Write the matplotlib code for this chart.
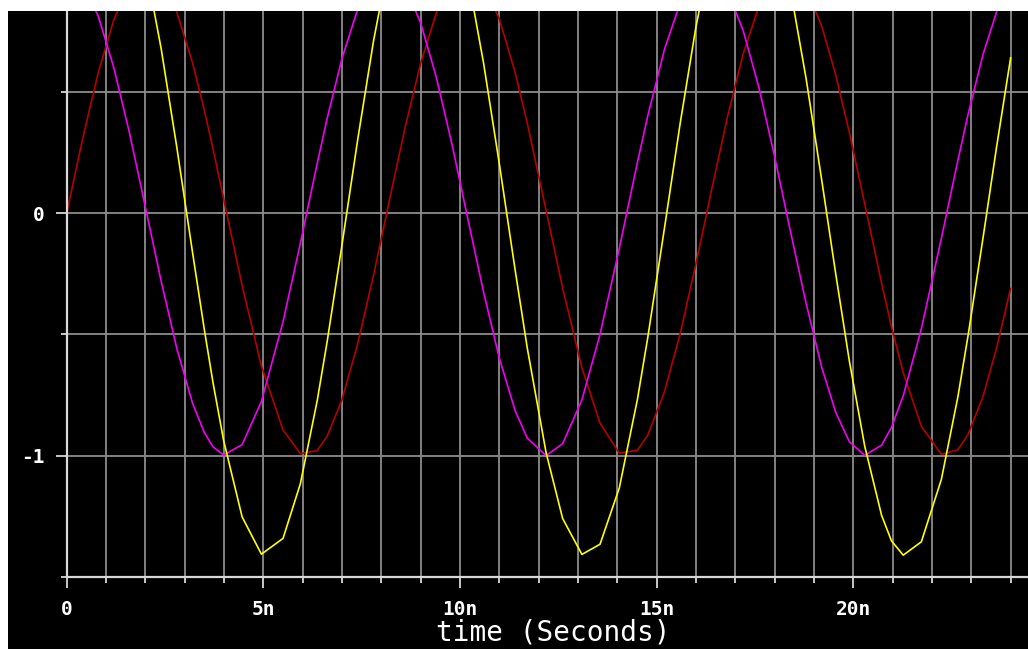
import matplotlib
matplotlib.use("Agg")
import matplotlib.pyplot as plt
from matplotlib.patches import Rectangle
from matplotlib.ticker import FixedLocator, MultipleLocator

# simulator time points (ns) and node voltages
time_ns = [
    0.0, 0.4, 0.8, 1.2, 1.6, 2.0, 2.4, 2.8, 3.2, 3.5, 3.72, 3.99, 4.46, 4.95,
    5.5, 5.94, 6.37, 6.62, 7.0, 7.4, 7.8, 8.2, 8.6, 9.0, 9.4, 9.8, 10.2, 10.6,
    11.0, 11.4, 11.71, 12.19, 12.61, 13.10, 13.56, 14.05, 14.51, 14.77, 15.2,
    15.6, 16.0, 16.4, 16.8, 17.2, 17.6, 18.0, 18.4, 18.8, 19.2, 19.55, 19.9,
    20.29, 20.72, 20.97, 21.27, 21.73, 22.24, 22.66, 22.92, 23.3, 23.65, 24.0,
]
v_red = [
    0.000, 0.304, 0.579, 0.800, 0.944, 1.000, 0.960, 0.830, 0.621, 0.425,
    0.266, 0.060, -0.298, -0.630, -0.894, -0.992, -0.979, -0.921, -0.769,
    -0.538, -0.257, 0.049, 0.351, 0.619, 0.828, 0.959, 1.000, 0.945, 0.802,
    0.582, 0.372, 0.011, -0.309, -0.638, -0.866, -0.990, -0.978, -0.917,
    -0.736, -0.496, -0.208, 0.099, 0.397, 0.657, 0.855, 0.972, 0.997, 0.928,
    0.771, 0.573, 0.333, 0.039, -0.289, -0.468, -0.658, -0.879, -0.995,
    -0.976, -0.912, -0.755, -0.552, -0.310,
]
v_magenta = [
    1.000, 0.953, 0.815, 0.600, 0.329, 0.026, -0.279, -0.558, -0.784, -0.905,
    -0.964, -0.998, -0.955, -0.777, -0.448, -0.125, 0.206, 0.390, 0.639,
    0.843, 0.967, 0.999, 0.937, 0.786, 0.560, 0.282, -0.023, -0.326, -0.598,
    -0.813, -0.928, -1.000, -0.951, -0.770, -0.500, -0.145, 0.209, 0.399,
    0.677, 0.868, 0.978, 0.995, 0.918, 0.754, 0.519, 0.234, -0.073, -0.372,
    -0.637, -0.820, -0.943, -0.999, -0.957, -0.884, -0.753, -0.477, -0.103,
    0.219, 0.409, 0.656, 0.834, 0.951,
]
v_yellow = [
    1.000, 1.257, 1.394, 1.400, 1.273, 1.026, 0.681, 0.272, -0.162, -0.481,
    -0.699, -0.938, -1.253, -1.407, -1.342, -1.117, -0.773, -0.532, -0.130,
    0.305, 0.710, 1.048, 1.287, 1.404, 1.389, 1.241, 0.977, 0.619, 0.204,
    -0.232, -0.556, -0.989, -1.260, -1.408, -1.366, -1.134, -0.769, -0.517,
    -0.060, 0.373, 0.770, 1.094, 1.315, 1.411, 1.374, 1.206, 0.925, 0.556,
    0.134, -0.247, -0.610, -0.961, -1.247, -1.352, -1.411, -1.356, -1.098,
    -0.757, -0.503, -0.100, 0.281, 0.641,
]

x_major = [0, 5, 10, 15, 20]
x_labels = ["0", "5n", "10n", "15n", "20n"]
y_major = [0, -1]
y_labels = ["0", "-1"]

W, H = 1028, 649
fig = plt.figure(figsize=(W / 100, H / 100), dpi=100, facecolor="black")
fig.add_artist(Rectangle((0, 1 - 11 / H), 1, 11 / H, transform=fig.transFigure,
                         facecolor="white", edgecolor="none"))
fig.add_artist(Rectangle((0, 0), 8 / W, 1, transform=fig.transFigure,
                         facecolor="white", edgecolor="none"))

x0, y_bot, y_top = 66.7, 576.7, 11
ax = fig.add_axes([x0 / W, (H - y_bot) / H, (W - x0) / W, (y_bot - y_top) / H])
ax.set_facecolor("black")

ax.plot(time_ns, v_red, color="#b40000", lw=1.2, zorder=3)
ax.plot(time_ns, v_magenta, color="#f000f0", lw=1.2, zorder=3)
ax.plot(time_ns, v_yellow, color="#ffff00", lw=1.2, zorder=3)

ax.set_xlim(0, (W - x0) / 39.33)
ax.set_ylim(-1.5, (213 - y_top) / 242.0)

ax.xaxis.set_major_locator(FixedLocator(x_major))
ax.set_xticklabels(x_labels)
ax.xaxis.set_minor_locator(MultipleLocator(1))
ax.yaxis.set_major_locator(FixedLocator(y_major))
ax.set_yticklabels(y_labels)
ax.yaxis.set_minor_locator(MultipleLocator(0.5))

ax.grid(which="both", color="#8c8c8c", lw=1.3, zorder=1)
ax.set_axisbelow(True)

for side in ["top", "right"]:
    ax.spines[side].set_visible(False)
for side in ["left", "bottom"]:
    ax.spines[side].set_color("#d8d8d8")
    ax.spines[side].set_linewidth(1.6)
    ax.spines[side].set_zorder(4)

ax.tick_params(which="major", length=8, width=1.3, color="#d8d8d8",
               labelcolor="white")
ax.tick_params(which="minor", length=4, width=1.3, color="#d8d8d8")
ax.tick_params(axis="x", which="major", pad=9)
ax.tick_params(axis="y", which="major", pad=8)
for lab in ax.get_xticklabels() + ax.get_yticklabels():
    lab.set_family("DejaVu Sans Mono")
    lab.set_fontweight("bold")
    lab.set_fontsize(14)

fig.text(553 / W, 8 / H, "time (Seconds)", color="white", fontsize=20,
         family="DejaVu Sans Mono", ha="center", va="baseline")

fig.savefig("out.png", dpi=100, facecolor=fig.get_facecolor())
